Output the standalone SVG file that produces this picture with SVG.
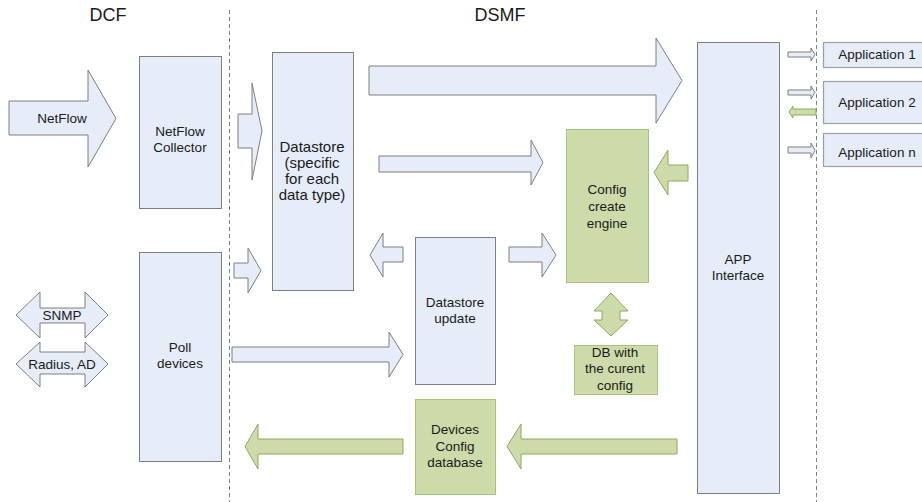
<svg xmlns="http://www.w3.org/2000/svg" width="922" height="502" viewBox="0 0 922 502">
  <style>
    text { font-family: "Liberation Sans", Arial, sans-serif; font-size: 13.5px; fill: #1a1a1a; text-anchor: middle; }
    .title { font-size: 18px; }
    .big { font-size: 15px; }
    .blue { fill: #e6edf8; stroke: #7f7f7f; stroke-width: 1; }
    .green { fill: #cddbab; stroke: #a9c27a; stroke-width: 1; }
    .garrow { fill: #cddbab; stroke: #8ea860; stroke-width: 1; }
    .app { fill: #e6edf8; stroke: #a0a0a0; stroke-width: 1.2; }
    .sep { stroke: #808080; stroke-width: 1; stroke-dasharray: 4 3; fill: none; }
  </style>

  <!-- section separators and titles -->
  <g id="sections">
    <line class="sep" x1="229.5" y1="10" x2="229.5" y2="502"/>
    <line class="sep" x1="816.5" y1="10" x2="816.5" y2="502" stroke="#a8a8a8"/>
    <text class="title" x="108" y="20.5">DCF</text>
    <text class="title" x="500" y="20.5">DSMF</text>
  </g>

  <!-- block arrows -->
  <g id="connectors">
    <g id="netflow-in">
      <polygon class="blue" points="9,101 88,101 88,70 116,118.5 88,167 88,135 9,135"/>
      <text x="62" y="123">NetFlow</text>
    </g>
    <g id="snmp">
      <polygon class="blue" points="16,315 40,292 40,308 85,308 85,292 108,315 85,338 85,323 40,323 40,338"/>
      <text x="62" y="320">SNMP</text>
    </g>
    <g id="radius">
      <polygon class="blue" points="16,364 40,342 40,352 85,352 85,342 108,364 85,387 85,374 40,374 40,387"/>
      <text x="62" y="369">Radius, AD</text>
    </g>
    <polygon class="blue" points="238,114 252,114 252,83 262,131 252,180 252,148 238,148"/>
    <polygon class="blue" points="234,263 248,263 248,248 261,270.5 248,293 248,278 234,278"/>
    <polygon class="blue" points="232,347 389,347 389,332 403,354.5 389,377 389,362 232,362"/>
    <polygon class="blue" points="403,247 383,247 383,233 370,255 383,277 383,262 403,262"/>
    <polygon class="blue" points="509,247 542,247 542,233 556,255 542,277 542,262 509,262"/>
    <polygon class="blue" points="369,66 656,66 656,38 682,80.5 656,123 656,95 369,95"/>
    <polygon class="blue" points="379,156 531,156 531,140 543,162.5 531,185 531,172 379,172"/>
    <polygon class="garrow" points="688,165 668,165 668,150 654,172.5 668,195 668,181 688,181"/>
    <polygon class="garrow" points="677,439 521,439 521,424 507,446.5 521,469 521,454 677,454"/>
    <polygon class="garrow" points="403,439 258,439 258,424 245,446.5 258,469 258,454 403,454"/>
    <polygon class="garrow" points="611,293 628,311 620,311 620,320 628,320 611,336 594,320 602,320 602,311 594,311"/>
    <polygon class="blue" points="788,52 811,52 811,48 815,54.5 811,61 811,57 788,57"/>
    <polygon class="blue" points="788,90 811,90 811,86 815,92.5 811,99 811,95 788,95"/>
    <polygon class="garrow" points="816,109 793,109 793,106 789,112 793,118 793,115 816,115"/>
    <polygon class="blue" points="788,147 811,147 811,143 815,150.5 811,158 811,153 788,153"/>
  </g>

  <g id="netflow-collector">
    <rect class="blue" x="139.5" y="56.5" width="82" height="152"/>
    <text x="180" y="136">NetFlow</text>
    <text x="180" y="152">Collector</text>
  </g>

  <g id="poll-devices">
    <rect class="blue" x="139.5" y="252.5" width="82" height="209"/>
    <text x="180" y="352">Poll</text>
    <text x="180" y="368">devices</text>
  </g>

  <g id="datastore">
    <rect class="blue" x="272.5" y="52.5" width="81" height="238"/>
    <text class="big" x="312" y="152">Datastore</text>
    <text class="big" x="312" y="168">(specific</text>
    <text class="big" x="312" y="184">for each</text>
    <text class="big" x="312" y="200">data type)</text>
  </g>

  <g id="datastore-update">
    <rect class="blue" x="415.5" y="237.5" width="80" height="147"/>
    <text x="455" y="307">Datastore</text>
    <text x="455" y="323">update</text>
  </g>

  <g id="config-engine">
    <rect class="green" x="566.5" y="129.5" width="82" height="153"/>
    <text x="607" y="194">Config</text>
    <text x="607" y="211">create</text>
    <text x="607" y="228">engine</text>
  </g>

  <g id="current-config-db">
    <rect class="green" x="574.5" y="345.5" width="83" height="49"/>
    <text x="615" y="357">DB with</text>
    <text x="615" y="373">the curent</text>
    <text x="615" y="390">config</text>
  </g>

  <g id="devices-config-db">
    <rect class="green" x="415.5" y="399.5" width="80" height="95"/>
    <text x="455" y="434">Devices</text>
    <text x="455" y="451">Config</text>
    <text x="455" y="467">database</text>
  </g>

  <g id="app-interface">
    <rect class="blue" x="697.5" y="42.5" width="82" height="451"/>
    <text x="738" y="264">APP</text>
    <text x="738" y="280">Interface</text>
  </g>

  <g id="application-1">
    <rect class="app" x="823.5" y="42.5" width="110" height="25"/>
    <text x="877" y="59">Application 1</text>
  </g>
  <g id="application-2">
    <rect class="app" x="823.5" y="81.5" width="110" height="42"/>
    <text x="877" y="107">Application 2</text>
  </g>
  <g id="application-n">
    <rect class="app" x="823.5" y="133.5" width="110" height="33"/>
    <text x="877" y="157">Application n</text>
  </g>
</svg>
